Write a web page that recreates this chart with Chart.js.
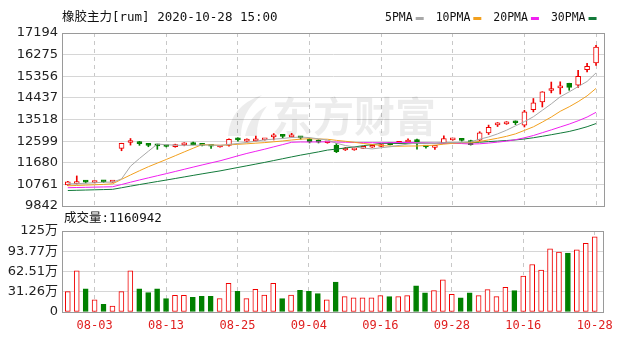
<!DOCTYPE html>
<html>
<head>
<meta charset="utf-8">
<script src="https://cdn.jsdelivr.net/npm/chart.js@4/dist/chart.umd.min.js"></script>
<style>
    body { margin: 0; background: #fff; }
    #wrap { position: relative; width: 620px; height: 340px; }
    #wrap canvas { position: absolute; left: 0; top: 0; }
</style>
</head>
<body>
<div id="wrap">
    <canvas id="price-chart" width="620" height="340"></canvas>
    <canvas id="volume-chart" width="620" height="340"></canvas>
</div>
<script>
// -------------------------------------------- DATA
const dates = ['07-29','07-30','07-31','08-03','08-04','08-05','08-06','08-07','08-10','08-11',
    '08-12','08-13','08-14','08-17','08-18','08-19','08-20','08-21','08-24','08-25',
    '08-26','08-27','08-28','08-31','09-01','09-02','09-03','09-04','09-07','09-08',
    '09-09','09-10','09-11','09-14','09-15','09-16','09-17','09-18','09-21','09-22',
    '09-23','09-24','09-25','09-28','09-29','09-30','10-09','10-12','10-13','10-14',
    '10-15','10-16','10-19','10-20','10-21','10-22','10-23','10-26','10-27','10-28'];
const shownDates = ['08-03','08-13','08-25','09-04','09-16','09-28','10-16','10-28'];

const open = [10740,10790,10880,10840,10890,10860,12290,12540,12520,12450,
    12420,12390,12360,12440,12470,12440,12400,12350,12420,12680,
    12600,12610,12650,12780,12830,12780,12770,12670,12640,12530,
    12420,12220,12230,12290,12340,12370,12480,12500,12560,12600,
    12380,12330,12500,12650,12660,12620,12640,12950,13290,13330,
    13400,13280,13940,14270,14750,14860,15050,14975,15640,15920];
const close = [10870,10820,10860,10850,10870,10880,12500,12560,12490,12420,
    12400,12370,12450,12460,12450,12420,12380,12370,12680,12650,
    12630,12640,12680,12810,12800,12830,12740,12560,12550,12550,
    12150,12250,12250,12320,12370,12400,12450,12540,12620,12580,
    12350,12370,12710,12670,12630,12450,12950,13180,13320,13410,
    13380,13840,14225,14690,14780,14880,14880,15356,15780,16600];
const high = [10890,11120,10920,10880,10920,10900,12510,12710,12590,12500,
    12470,12400,12470,12530,12560,12450,12420,12400,12700,12740,
    12700,12810,12700,12920,12880,12930,12800,12700,12660,12580,
    12500,12330,12310,12380,12390,12450,12500,12560,12700,12690,
    12400,12380,12820,12700,12700,12640,13000,13280,13390,13430,
    13460,13910,14410,14700,15110,15120,15060,15610,15900,16670];
const low = [10720,10780,10820,10820,10840,10840,12190,12430,12420,12360,
    12250,12350,12340,12400,12440,12400,12290,12340,12380,12600,
    12590,12600,12640,12650,12730,12770,12680,12520,12520,12510,
    12110,12200,12210,12280,12330,12360,12440,12490,12550,12260,
    12300,12250,12490,12640,12600,12430,12620,12880,13220,13310,
    13300,13200,13840,14050,14650,14600,14760,14880,15540,15820];

// volume in 万
const volume = [31.5,63.5,35.6,18.6,11.9,9.3,31.5,63.5,35.6,30.0,
    35.6,20.7,25.8,25.8,22.7,24.3,24.3,20.7,44.4,32.0,
    20.7,35.1,26.3,44.4,20.7,26.3,33.6,32.0,28.4,18.6,
    46.0,23.8,21.7,21.7,21.7,25.3,23.8,23.8,25.3,40.3,
    29.4,33.0,49.6,27.4,21.7,29.4,25.3,34.6,23.8,38.2,
    33.0,55.3,73.3,64.6,97.6,92.5,90.9,96.1,105.9,116.09];

const ma5 = [10780,10790,10810,10830,10854,10856,10992,11532,11860,12170,
    12474,12448,12426,12420,12426,12430,12432,12416,12460,12500,
    12542,12594,12656,12682,12712,12752,12772,12748,12696,12646,
    12510,12412,12350,12304,12268,12318,12358,12416,12476,12518,
    12508,12492,12526,12536,12546,12566,12682,12776,12906,13062,
    13248,13426,13635,13909,14183,14483,14691,14917,15135,15499];
const ma10 = [10700,10715,10730,10745,10760,10785,10975,11161,11340,11512,
    11665,11820,11979,12140,12298,12452,12440,12421,12440,12463,
    12486,12513,12536,12571,12606,12647,12683,12702,12689,12679,
    12631,12592,12549,12500,12457,12414,12385,12383,12390,12393,
    12413,12425,12471,12506,12532,12537,12587,12651,12721,12804,
    12907,13054,13206,13408,13623,13866,14059,14276,14522,14841];
const ma20 = [10620,10628,10636,10644,10652,10660,10755,10853,10947,11038,
    11128,11217,11309,11402,11495,11586,11675,11763,11867,11975,
    12076,12167,12258,12356,12452,12550,12562,12562,12565,12571,
    12559,12553,12543,12536,12532,12531,12534,12543,12540,12536,
    12522,12509,12510,12503,12495,12476,12486,12517,12556,12599,
    12660,12740,12838,12957,13077,13201,13323,13464,13622,13823];
const ma30 = [10500,10510,10520,10530,10540,10550,10617,10686,10753,10818,
    10882,10945,11011,11077,11143,11208,11271,11334,11407,11479,
    11551,11623,11696,11774,11851,11929,12004,12073,12142,12218,
    12261,12308,12355,12404,12454,12504,12503,12502,12506,12512,
    12510,12510,12519,12526,12532,12533,12552,12579,12600,12625,
    12650,12690,12742,12805,12871,12939,13010,13103,13211,13346];

const priceTicks = [9842,10761,11680,12599,13518,14437,15356,16275,17194];
const volTicks = [0,31.255,62.51,93.765,125];
const volTickLabels = ['0','31.26万','62.51万','93.77万','125万'];
const maNames = ['5PMA','10PMA','20PMA','30PMA'];
const lastVolume = '1160942';

// -------------------------------------------- STYLE
const UP = '#f00000';
const DOWN = '#008000';
const maColors = ['#a8a8a8','#f2a01e','#f020f0','#127a3a'];
const monoFont = '"DejaVu Sans Mono", "Noto Sans CJK SC", monospace';
const numFont = '"DejaVu Sans", "Noto Sans CJK SC", sans-serif';

const isUp = open.map((o, i) => close[i] >= o);
const tickIdx = shownDates.map(d => dates.indexOf(d));
const xMin = -0.65, xMax = 60;

function frame(color) {
    return {
        id: 'frame',
        afterDraw(chart) {
            const a = chart.chartArea;
            const c = chart.ctx;
            c.save();
            c.strokeStyle = color;
            c.lineWidth = 1;
            c.strokeRect(Math.round(a.left) + 0.5, Math.round(a.top) + 0.5,
                Math.round(a.right - a.left) - 1, Math.round(a.bottom - a.top));
            c.restore();
        }
    };
}

// -------------------------------------------- PRICE (candles + MA)
const watermark = {
    id: 'watermark',
    beforeDatasetsDraw(chart) {
        const c = chart.ctx;
        c.save();
        c.fillStyle = 'rgba(0,0,0,0.075)';
        c.beginPath();
        c.moveTo(228, 136); c.quadraticCurveTo(230, 106, 262, 95); c.quadraticCurveTo(241, 112, 241, 136);
        c.closePath(); c.fill();
        c.beginPath();
        c.moveTo(245, 136); c.quadraticCurveTo(250, 114, 267, 106); c.quadraticCurveTo(256, 120, 257, 136);
        c.closePath(); c.fill();
        c.font = 'bold 41px "Noto Sans CJK SC"';
        c.textBaseline = 'middle';
        c.fillText('东方财富', 272, 116);
        c.restore();
    }
};

const header = {
    id: 'header',
    afterDraw(chart) {
        const c = chart.ctx;
        c.save();
        c.textBaseline = 'middle';
        c.fillStyle = '#111';
        c.font = '12.5px ' + monoFont;
        c.fillText('橡胶主力[rum] 2020-10-28 15:00', 62, 18);
        // legend
        c.font = '11.5px ' + monoFont;
        let x = 385;
        maNames.forEach((name, i) => {
            c.fillStyle = '#111';
            c.fillText(name, x, 18);
            x += c.measureText(name).width + 3;
            c.fillStyle = maColors[i];
            c.fillRect(x, 17, 8, 3);
            x += 20;
        });
        c.restore();
    }
};

const candleDatasets = [
    ...maNames.map((name, k) => ({
        type: 'line',
        label: name,
        data: [ma5, ma10, ma20, ma30][k].map((v, i) => ({x: i, y: v})),
        borderColor: maColors[k],
        borderWidth: 1,
        pointRadius: 0,
        tension: 0,
    })),
    {
        type: 'bar',
        label: 'body',
        data: open.map((o, i) => ({x: i, y: [o, close[i]]})),
        backgroundColor: isUp.map(u => u ? '#fff' : DOWN),
        borderColor: isUp.map(u => u ? UP : DOWN),
        borderWidth: 1,
        borderSkipped: false,
        barThickness: 5,
        minBarLength: 2,
        grouped: false,
    },
    {
        type: 'bar',
        label: 'wick',
        data: low.map((l, i) => ({x: i, y: [l, high[i]]})),
        backgroundColor: isUp.map(u => u ? UP : DOWN),
        borderWidth: 0,
        barThickness: 1,
        grouped: false,
    },
];

const priceCtx = document.querySelector('#price-chart').getContext('2d');
const priceChart = new Chart(priceCtx, {
    data: { datasets: candleDatasets },
    options: {
        responsive: false,
        animation: false,
        layout: { padding: { top: 33, right: 15, bottom: 134, left: 0 } },
        plugins: { legend: { display: false }, tooltip: { enabled: false } },
        scales: {
            x: {
                type: 'linear',
                offset: false,
                min: xMin,
                max: xMax,
                afterBuildTicks: s => { s.ticks = tickIdx.map(v => ({value: v})); },
                afterFit: s => { s.height = 0; },
                ticks: { display: false },
                grid: { color: '#c8c8c8', drawTicks: false, offset: false },
                border: { display: false, dash: [4, 4] },
            },
            y: {
                min: priceTicks[0],
                max: priceTicks[priceTicks.length - 1],
                afterBuildTicks: s => { s.ticks = priceTicks.map(v => ({value: v})); },
                afterFit: s => { s.width = 62; },
                ticks: {
                    callback: v => String(v),
                    color: '#222',
                    padding: 4,
                    font: { family: numFont, size: 13 },
                },
                grid: { color: '#d6d6d6', drawTicks: false },
                border: { display: false },
            }
        }
    },
    plugins: [watermark, header, frame('#9a9a9a')]
});

// -------------------------------------------- VOLUME
const volumeLabel = {
    id: 'volumeLabel',
    afterDraw(chart) {
        const c = chart.ctx;
        c.save();
        c.textBaseline = 'middle';
        c.fillStyle = '#111';
        c.font = '12.5px ' + monoFont;
        c.fillText('成交量:' + lastVolume, 64, 219);
        c.restore();
    }
};

const volumeCtx = document.querySelector('#volume-chart').getContext('2d');
const volumeChart = new Chart(volumeCtx, {
    type: 'bar',
    data: {
        datasets: [{
            label: '成交量',
            data: volume.map((v, i) => ({x: i, y: v})),
            backgroundColor: isUp.map(u => u ? '#fff' : DOWN),
            borderColor: isUp.map(u => u ? UP : DOWN),
            borderWidth: 1,
            borderSkipped: false,
            barThickness: 5,
        }]
    },
    options: {
        responsive: false,
        animation: false,
        layout: { padding: { top: 231, right: 15, bottom: 0, left: 0 } },
        plugins: { legend: { display: false }, tooltip: { enabled: false } },
        scales: {
            x: {
                type: 'linear',
                offset: false,
                min: xMin,
                max: xMax,
                afterBuildTicks: s => { s.ticks = tickIdx.map(v => ({value: v})); },
                afterFit: s => { s.height = 28; },
                ticks: {
                    callback: v => dates[v],
                    color: '#e02020',
                    padding: 7,
                    maxRotation: 0,
                    font: { family: monoFont, size: 12 },
                },
                grid: { color: '#c8c8c8', drawTicks: false, offset: false },
                border: { display: false, dash: [4, 4] },
            },
            y: {
                min: 0,
                max: 125,
                afterBuildTicks: s => { s.ticks = volTicks.map(v => ({value: v})); },
                afterFit: s => { s.width = 62; },
                ticks: {
                    callback: (v, i) => volTickLabels[i],
                    color: '#222',
                    padding: 4,
                    font: { family: numFont, size: 13 },
                },
                grid: { color: '#d6d6d6', drawTicks: false },
                border: { display: false },
            }
        }
    },
    plugins: [volumeLabel, frame('#9a9a9a')]
});
</script>
</body>
</html>
